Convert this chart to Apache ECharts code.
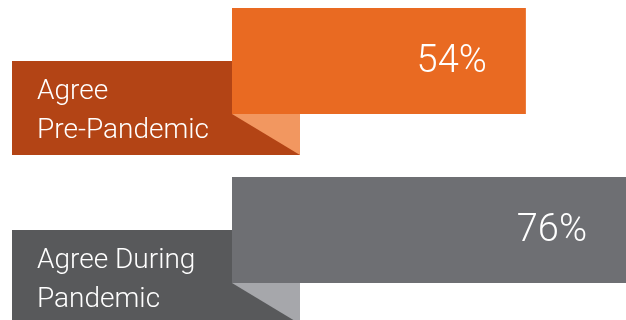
<!DOCTYPE html>
<html>
<head>
<meta charset="utf-8">
<script src="https://cdn.jsdelivr.net/npm/echarts@6/dist/echarts.min.js"></script>
<style>
html,body{margin:0;padding:0;background:#fff;}
#chart{width:626px;height:320px;}
</style>
</head>
<body>
<div id="chart"></div>
<script>
const categories = ['Agree\nPre-Pandemic', 'Agree During\nPandemic'];
const values = [54, 76];
const valueLabels = ['54%', '76%'];

const mainColors = ['#E96A22', '#6E6F73'];
const darkColors = ['#B34415', '#58595B'];
const foldColors = ['#F29760', '#A6A7AB'];

const chart = echarts.init(document.getElementById('chart'));
const seriesData = values.map((v, i) => [v, i]);

chart.setOption({
  animation: false,
  grid: { left: 232, right: 0, top: 61, bottom: 90 },
  xAxis: { type: 'value', min: 0, max: 72.4, show: false },
  yAxis: { type: 'category', data: categories, inverse: true, boundaryGap: false, show: false },
  series: [{
    type: 'custom',
    encode: { x: 0, y: 1 },
    data: seriesData,
    renderItem: function (params, api) {
      const idx = params.dataIndex;
      const val = api.value(0);
      const cat = api.value(1);
      const start = api.coord([0, cat]);
      const end = api.coord([val, cat]);
      const cs = params.coordSys;
      const right = Math.min(end[0], cs.x + cs.width);
      const cy = start[1];
      const half = 53;
      const x0 = start[0];
      return {
        type: 'group',
        children: [
          { type: 'rect', shape: { x: x0 - 220, y: cy, width: 288, height: 94 },
            style: { fill: darkColors[idx] } },
          { type: 'polygon', shape: { points: [[x0, cy + half], [x0 + 68, cy + half], [x0 + 68, cy + half + 41]] },
            style: { fill: foldColors[idx] } },
          { type: 'rect', shape: { x: x0, y: cy - half, width: right - x0, height: half * 2 },
            style: { fill: mainColors[idx] } },
          { type: 'text', x: right - 39, y: cy + 1,
            style: { text: valueLabels[idx], fill: '#fff', font: '300 38px Roboto', align: 'right', verticalAlign: 'middle' } },
          { type: 'text', x: x0 - 195, y: cy + 50,
            style: { text: categories[idx], fill: '#fff', font: '300 28px Roboto', lineHeight: 39, align: 'left', verticalAlign: 'middle' } }
        ]
      };
    }
  }]
});
</script>
</body>
</html>
